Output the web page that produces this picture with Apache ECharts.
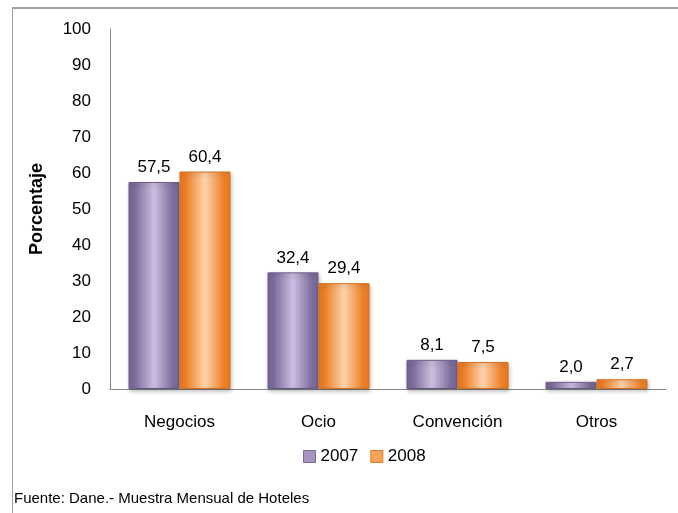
<!DOCTYPE html>
<html>
<head>
<meta charset="utf-8">
<script src="https://cdn.jsdelivr.net/npm/echarts@6/dist/echarts.min.js"></script>
<style>
  html, body { margin: 0; padding: 0; background: #fff; }
  #wrap { position: relative; width: 678px; height: 513px; }
  #chart { position: absolute; left: 0; top: 0; width: 678px; height: 513px; }
  #frame { position: absolute; left: 12px; top: 7px; right: 0; bottom: 0;
           border-left: 1px solid #a0a0a0; border-top: 2px solid #a0a0a0; pointer-events: none; }
</style>
</head>
<body>
<div id="wrap">
  <div id="chart"></div>
  <div id="frame"></div>
</div>
<script>
const categories = ['Negocios', 'Ocio', 'Convención', 'Otros']
const years = ['2007', '2008']
const values2007 = [57.5, 32.4, 8.1, 2.0]
const values2008 = [60.4, 29.4, 7.5, 2.7]
const yTicks = [0, 10, 20, 30, 40, 50, 60, 70, 80, 90, 100]

const FONT = 'Liberation Sans'

// gradiente horizontal tipo "cilindro" de Excel
function barFill(edge, mid) {
  return new echarts.graphic.LinearGradient(0, 0, 1, 0, [
    { offset: 0, color: edge },
    { offset: 0.12, color: edge },
    { offset: 0.5, color: mid },
    { offset: 0.88, color: edge },
    { offset: 1, color: edge },
  ])
}

const purple = barFill('#7b6a9a', '#ccbee0')
const orange = barFill('#ec7e24', '#fdd3ac')

function makeSeries(name, data, fill, border) {
  return {
    name: name,
    type: 'bar',
    data: data,
    barWidth: 51,
    barGap: '0%',
    itemStyle: {
      color: fill,
      borderColor: border,
      borderWidth: 1,
      shadowColor: 'rgba(0,0,0,0.25)',
      shadowBlur: 4,
      shadowOffsetX: 1,
      shadowOffsetY: 2,
    },
    label: {
      show: true,
      position: 'top',
      distance: 6,
      fontFamily: FONT,
      fontSize: 17,
      color: '#000',
      formatter: (p) => p.value.toFixed(1).replace('.', ','),
    },
  }
}

const chart = echarts.init(document.getElementById('chart'), null, { renderer: 'canvas' })
chart.setOption({
  animation: false,
  grid: { left: 110, right: 12, top: 29, bottom: 124 },
  legend: {
    data: years.map((y, i) => ({
      name: y,
      itemStyle: { color: i === 0 ? '#a594c0' : '#f6a35c', borderColor: i === 0 ? '#7b6a9a' : '#e07a20', borderWidth: 1 },
    })),
    top: 443,
    left: 298,
    icon: 'rect',
    itemWidth: 12,
    itemHeight: 12,
    itemGap: 12,
    textStyle: { fontFamily: FONT, fontSize: 17, color: '#000' },
  },
  xAxis: {
    type: 'category',
    data: categories,
    axisLine: { lineStyle: { color: '#888', width: 1 } },
    axisTick: { show: false },
    axisLabel: { fontFamily: FONT, fontSize: 17, color: '#000', margin: 25 },
  },
  yAxis: {
    type: 'value',
    min: yTicks[0],
    max: yTicks[yTicks.length - 1],
    interval: 10,
    name: 'Porcentaje',
    nameLocation: 'middle',
    nameGap: 64,
    nameTextStyle: { fontFamily: FONT, fontSize: 18, fontWeight: 'bold', color: '#000' },
    axisLine: { show: true, lineStyle: { color: '#888', width: 1 } },
    axisTick: { show: false },
    splitLine: { show: false },
    axisLabel: { fontFamily: FONT, fontSize: 17, color: '#000', margin: 19 },
  },
  series: [
    makeSeries(years[0], values2007, purple, '#6b5a88'),
    makeSeries(years[1], values2008, orange, '#d46f1a'),
  ],
  graphic: [
    {
      type: 'text',
      left: 14,
      top: 491,
      style: { text: 'Fuente: Dane.- Muestra Mensual de Hoteles', fontFamily: FONT, fontSize: 15, fill: '#000' },
    },
  ],
})
</script>
</body>
</html>
